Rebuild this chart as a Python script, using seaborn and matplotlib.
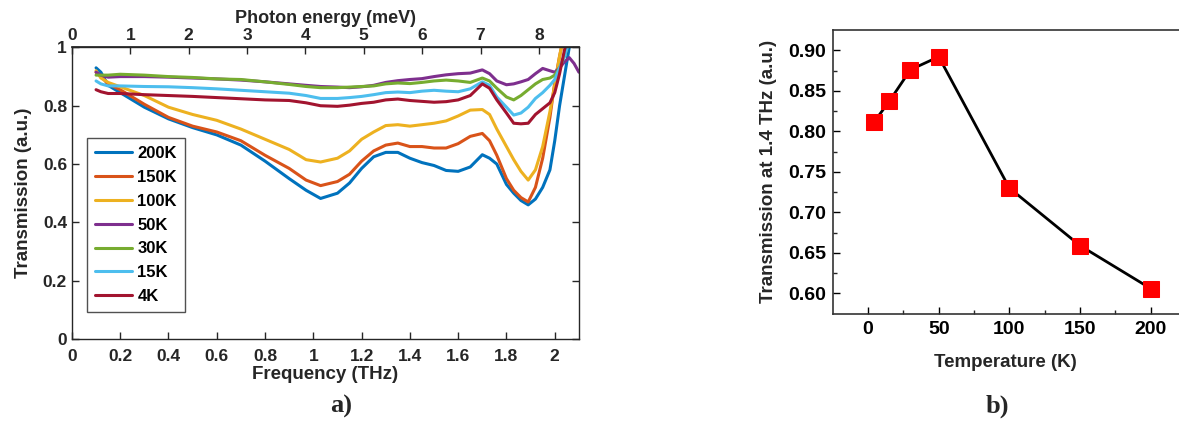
import numpy as np
import pandas as pd
import matplotlib
matplotlib.use("Agg")
import matplotlib.pyplot as plt
import seaborn as sns

# Spectres de transmission
freq = [0.10, 0.12, 0.15, 0.20, 0.30, 0.40, 0.50, 0.60, 0.70, 0.80, 0.90, 0.97,
        1.03, 1.10, 1.15, 1.20, 1.25, 1.30, 1.35, 1.40, 1.45, 1.50, 1.55, 1.60,
        1.65, 1.70, 1.73, 1.76, 1.80, 1.83, 1.86, 1.89, 1.92, 1.95, 1.98, 2.00,
        2.02, 2.04, 2.06, 2.08, 2.10]

t200 = [0.93, 0.915, 0.87, 0.845, 0.795, 0.755, 0.725, 0.70, 0.665, 0.61, 0.55, 0.51,
        0.482, 0.50, 0.535, 0.585, 0.625, 0.64, 0.64, 0.62, 0.605, 0.595, 0.578, 0.575,
        0.59, 0.632, 0.62, 0.60, 0.53, 0.50, 0.475, 0.46, 0.48, 0.52, 0.58, 0.68,
        0.80, 0.90, 1.0, 1.05, 1.10]
t150 = [0.915, 0.90, 0.875, 0.855, 0.805, 0.76, 0.73, 0.71, 0.68, 0.63, 0.585, 0.545,
        0.526, 0.54, 0.565, 0.61, 0.645, 0.665, 0.672, 0.66, 0.66, 0.655, 0.655, 0.67,
        0.695, 0.705, 0.68, 0.63, 0.55, 0.51, 0.485, 0.47, 0.52, 0.62, 0.76, 0.88,
        0.97, 1.05, 1.10, 1.15, 1.20]
t100 = [0.92, 0.895, 0.88, 0.865, 0.835, 0.795, 0.77, 0.75, 0.72, 0.685, 0.65, 0.615,
        0.607, 0.62, 0.645, 0.685, 0.71, 0.732, 0.735, 0.73, 0.735, 0.74, 0.748, 0.765,
        0.785, 0.787, 0.77, 0.72, 0.66, 0.615, 0.575, 0.545, 0.58, 0.66, 0.78, 0.87,
        0.97, 1.05, 1.10, 1.15, 1.20]
t50 = [0.915, 0.905, 0.898, 0.90, 0.90, 0.898, 0.895, 0.892, 0.888, 0.882, 0.875, 0.87,
       0.866, 0.864, 0.862, 0.865, 0.87, 0.88, 0.886, 0.89, 0.893, 0.90, 0.906, 0.91,
       0.912, 0.923, 0.91, 0.885, 0.872, 0.875, 0.882, 0.89, 0.91, 0.928, 0.92, 0.915,
       0.93, 0.95, 0.965, 0.945, 0.915]
t30 = [0.905, 0.905, 0.905, 0.908, 0.905, 0.90, 0.897, 0.892, 0.89, 0.882, 0.873, 0.866,
       0.862, 0.862, 0.864, 0.866, 0.868, 0.875, 0.878, 0.876, 0.88, 0.885, 0.888, 0.885,
       0.88, 0.895, 0.885, 0.86, 0.83, 0.82, 0.835, 0.855, 0.875, 0.89, 0.895, 0.905,
       0.93, 0.97, 1.02, 1.06, 1.10]
t15 = [0.885, 0.875, 0.868, 0.868, 0.866, 0.865, 0.862, 0.858, 0.853, 0.848, 0.843, 0.835,
       0.825, 0.825, 0.828, 0.832, 0.838, 0.845, 0.847, 0.845, 0.85, 0.853, 0.85, 0.848,
       0.858, 0.882, 0.87, 0.83, 0.795, 0.768, 0.775, 0.795, 0.825, 0.845, 0.87, 0.89,
       0.93, 0.97, 1.02, 1.06, 1.10]
t4 = [0.855, 0.848, 0.842, 0.842, 0.838, 0.835, 0.832, 0.828, 0.824, 0.82, 0.818, 0.81,
      0.80, 0.798, 0.802, 0.808, 0.812, 0.82, 0.823, 0.818, 0.815, 0.812, 0.814, 0.82,
      0.835, 0.875, 0.86, 0.82, 0.775, 0.74, 0.738, 0.74, 0.77, 0.79, 0.81, 0.845,
      0.91, 0.99, 1.05, 1.10, 1.15]

series = ['200K', '150K', '100K', '50K', '30K', '15K', '4K']
couleurs = ['#0072BD', '#D95319', '#EDB120', '#7E2F8E', '#77AC30', '#4DBEEE', '#A2142F']

# Transmission à 1.4 THz selon la température
temperature = [4, 15, 30, 50, 100, 150, 200]
trans_14 = [0.811, 0.837, 0.876, 0.892, 0.730, 0.659, 0.606]

df = pd.DataFrame({
    'freq': freq * 7,
    'T': t200 + t150 + t100 + t50 + t30 + t15 + t4,
    'serie': [s for s in series for _ in freq],
})
df_b = pd.DataFrame({'temp': temperature, 'trans': trans_14})

sns.set_theme(style="ticks")
plt.rcParams['font.family'] = ['Liberation Sans', 'DejaVu Sans']
plt.rcParams['font.weight'] = 'bold'
plt.rcParams['axes.labelweight'] = 'bold'

gris = '#262626'
fig = plt.figure(figsize=(11.79, 4.25), dpi=100)

# ---- a) spectres
ax = fig.add_axes([0.061, 0.2024, 0.430, 0.686])
sns.lineplot(data=df, x='freq', y='T', hue='serie', hue_order=series,
             palette=couleurs, sort=False, linewidth=2.2, ax=ax)
ax.set_xlim(0, 2.1)
ax.set_ylim(0, 1)
ax.set_xticks(np.arange(0, 2.01, 0.2))
ax.set_xticklabels(['0', '0.2', '0.4', '0.6', '0.8', '1', '1.2', '1.4', '1.6', '1.8', '2'])
ax.set_yticks(np.arange(0, 1.01, 0.2))
ax.set_yticklabels(['0', '0.2', '0.4', '0.6', '0.8', '1'])
ax.tick_params(direction='in', length=5, width=1, colors=gris, labelsize=12.5,
               right=True, top=False)
ax.tick_params(axis='x', pad=7)
for sp in ax.spines.values():
    sp.set_color(gris)
    sp.set_linewidth(1)
ax.set_xlabel("Frequency (THz)", fontsize=13.5, color=gris, labelpad=2)
ax.set_ylabel("Transmission (a.u.)", fontsize=13.5, color=gris, labelpad=8)

top = ax.secondary_xaxis('top', functions=(lambda f: f * 4.1357, lambda e: e / 4.1357))
top.set_xticks(range(0, 9))
top.tick_params(direction='in', length=5, width=1, colors=gris, labelsize=12.5, pad=3)
top.set_xlabel("Photon energy (meV)", fontsize=13, color=gris, labelpad=4)

leg = ax.legend(loc='upper left', bbox_to_anchor=(0.029, 0.69), fontsize=12,
                frameon=True, fancybox=False, edgecolor=gris, handlelength=2.2,
                labelspacing=0.53, borderpad=0.5, handletextpad=0.35,
                borderaxespad=0)
leg.get_frame().set_linewidth(1)
for txt in leg.get_texts():
    txt.set_fontweight('bold')
    txt.set_color('black')

fig.text(0.289, 0.03, "a)", fontsize=19, fontweight='bold',
         family=['Liberation Serif', 'DejaVu Serif'], ha='center')

# ---- b) transmission à 1.4 THz
bx = fig.add_axes([0.7063, 0.2619, 0.2937, 0.6675])
sns.lineplot(data=df_b, x='temp', y='trans', color='black', linewidth=2,
             marker='s', markersize=11, markerfacecolor='#FF0000',
             markeredgecolor='#FF0000', ax=bx)
bx.set_xlim(-25, 220)
bx.set_ylim(0.575, 0.925)
bx.set_xticks([0, 50, 100, 150, 200])
bx.set_yticks([0.60, 0.65, 0.70, 0.75, 0.80, 0.85, 0.90])
bx.set_yticklabels(['0.60', '0.65', '0.70', '0.75', '0.80', '0.85', '0.90'])
bx.set_xticks([25, 75, 125, 175], minor=True)
bx.set_yticks([0.625, 0.675, 0.725, 0.775, 0.825, 0.875], minor=True)
bx.tick_params(which='major', direction='in', length=5, width=1, labelsize=14,
               colors='black', pad=5)
bx.tick_params(which='minor', direction='in', length=3, width=1)
bx.spines['right'].set_visible(False)
for sp in ['left', 'bottom', 'top']:
    bx.spines[sp].set_color('#333333')
    bx.spines[sp].set_linewidth(1.2)
bx.set_xlabel("Temperature (K)", fontsize=13.5, labelpad=12)
bx.set_ylabel("Transmission at 1.4 THz (a.u.)", fontsize=13.5, labelpad=8)

fig.text(0.846, 0.03, "b)", fontsize=19, fontweight='bold',
         family=['Liberation Serif', 'DejaVu Serif'], ha='center')

fig.savefig("out.png", dpi=100)
